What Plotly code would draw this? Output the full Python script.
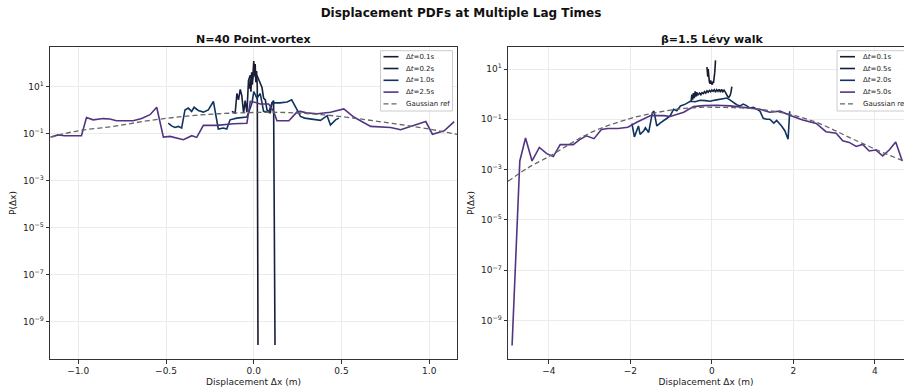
import plotly.graph_objects as go

# ---------------- data: N=40 point-vortex ----------------
PV_LABELS = ["Δ<i>t</i>=0.1s", "Δ<i>t</i>=0.2s", "Δ<i>t</i>=1.0s", "Δ<i>t</i>=2.5s"]

PV_DX_01 = [-0.025, -0.02, -0.016, -0.012, -0.008, -0.004, 0.0, 0.004, 0.008, 0.012, 0.016, 0.02, 0.024]
PV_P_01 = [8, 20, 6, 40, 12, 70, 120, 30, 90, 15, 45, 10, 1e-10]

PV_DX_02 = [-0.125, -0.115, -0.106, -0.096, -0.087, -0.077, -0.068, -0.058, -0.049, -0.039, -0.03,
            -0.02, -0.01, 0.0, 0.01, 0.018, 0.028, 0.037, 0.047, 0.056, 0.066, 0.075, 0.085, 0.094,
            0.104, 0.113, 0.121]
PV_P_02 = [0.87, 0.8, 0.74, 5.0, 2.7, 7.5, 4.0, 0.74, 2.5, 0.8, 18,
           30, 15, 40, 25, 30, 20, 12, 9, 3.2, 2.7, 1.0, 0.87, 0.74,
           2.0, 2.5, 1e-10]

PV_DX_10 = [-0.487, -0.468, -0.449, -0.43, -0.411, -0.392, -0.373, -0.354, -0.34, -0.316, -0.287,
            -0.259, -0.23, -0.202, -0.173, -0.154, -0.135, -0.097, -0.04, -0.03, -0.01, 0.0, 0.018,
            0.028, 0.037, 0.056, 0.085, 0.104, 0.123, 0.15, 0.19, 0.216, 0.247, 0.266, 0.29, 0.323,
            0.35, 0.38, 0.418, 0.437, 0.466, 0.485]
PV_P_10 = [0.277, 0.21, 0.18, 0.2, 0.17, 1.0, 1.2, 0.87, 1.3, 0.95, 0.81,
           1.0, 2.3, 0.155, 0.17, 0.155, 0.38, 0.45, 0.5, 0.74, 2.0, 6.0, 3.2,
           4.0, 5.0, 0.87, 0.8, 2.0, 2.0, 2.0, 2.2, 2.7, 1.0, 0.53, 0.45, 0.41,
           0.4, 0.36, 0.57, 0.23, 0.38, 0.45]

PV_DX_25 = [-1.153, -1.115, -1.077, -0.982, -0.953, -0.915, -0.858, -0.82, -0.782, -0.687, -0.639,
            -0.591, -0.553, -0.515, -0.477, -0.401, -0.353, -0.325, -0.287, -0.21, -0.115, -0.039,
            -0.02, 0.0, 0.037, 0.085, 0.113, 0.132, 0.2, 0.247, 0.266, 0.3, 0.361, 0.4, 0.437, 0.513,
            0.57, 0.666, 0.78, 0.837, 0.894, 0.98, 1.018, 1.085, 1.142]
PV_P_25 = [0.07, 0.087, 0.08, 0.08, 0.48, 0.38, 0.43, 0.41, 0.35, 0.35, 0.43,
           0.63, 1.3, 0.07, 0.075, 0.054, 0.08, 0.068, 0.22, 0.22, 0.26, 0.27,
           2.3, 2.2, 1.8, 1.8, 0.87, 0.35, 0.35, 0.83, 0.87, 0.75, 0.69, 0.75, 0.8, 1.1,
           0.5, 0.2, 0.18, 0.145, 0.2, 0.32, 0.093, 0.13, 0.32]

PV_GAUSS_DX = [-1.16, -1.0, -0.8, -0.6, -0.4, -0.2, 0.0, 0.1, 0.2, 0.4, 0.6, 0.8, 1.0, 1.16]
PV_GAUSS_P = [0.07, 0.13, 0.2, 0.35, 0.53, 0.69, 0.78, 0.8, 0.77, 0.62, 0.42, 0.26, 0.155, 0.09]

# ---------------- data: beta=1.5 Levy walk ----------------
LW_LABELS = ["Δ<i>t</i>=0.1s", "Δ<i>t</i>=0.5s", "Δ<i>t</i>=2.0s", "Δ<i>t</i>=5.0s"]

LW_DX_01 = [-0.12, -0.11, -0.1, -0.09, -0.08, -0.07, -0.06, -0.05, -0.04, -0.03, -0.02, -0.01, 0.0,
            0.01, 0.02, 0.03, 0.04, 0.05, 0.06, 0.07, 0.08, 0.09]
LW_P_01 = [12, 9, 5, 10, 4.4, 3.5, 3.0, 2.8, 2.6, 3.5, 2.8, 3.0, 2.5,
           2.4, 2.6, 3.2, 2.8, 3.5, 4.5, 7, 12, 22]

LW_DX_05 = [-0.51, -0.49, -0.47, -0.45, -0.43, -0.41, -0.39, -0.37, -0.35, -0.33, -0.3, -0.27, -0.24,
            -0.21, -0.18, -0.15, -0.12, -0.09, -0.06, -0.03, 0.0, 0.03, 0.06, 0.09, 0.12, 0.15, 0.18,
            0.21, 0.24, 0.27, 0.3, 0.33, 0.36, 0.39, 0.42, 0.45, 0.47, 0.49]
LW_P_05 = [0.5, 0.95, 0.6, 1.1, 0.7, 1.3, 0.8, 1.2, 0.9, 1.0, 1.1, 0.95, 1.15,
           1.05, 1.25, 1.1, 1.35, 1.2, 1.4, 1.25, 1.45, 1.3, 1.5, 1.2, 1.5, 1.3, 1.55,
           1.2, 1.55, 1.25, 1.45, 1.2, 0.9, 0.8, 0.75, 0.9, 1.2, 2.0]

LW_DX_20 = [-1.96, -1.9, -1.8, -1.76, -1.67, -1.63, -1.55, -1.46, -1.42, -1.35, -1.27, -1.19, -1.1,
            -1.02, -0.94, -0.86, -0.77, -0.65, -0.53, -0.41, -0.29, -0.16, -0.04, 0.08, 0.2, 0.29,
            0.37, 0.45, 0.53, 0.61, 0.69, 0.77, 0.85, 0.93, 1.02, 1.1, 1.18, 1.26, 1.34, 1.42, 1.46,
            1.52, 1.59, 1.65, 1.71, 1.79, 1.87, 1.91]
LW_P_20 = [0.068, 0.02, 0.054, 0.025, 0.035, 0.046, 0.03, 0.18, 0.21, 0.054, 0.07, 0.085, 0.11,
           0.14, 0.25, 0.22, 0.34, 0.4, 0.52, 0.5, 0.57, 0.55, 0.52, 0.58, 0.62, 0.66,
           0.7, 0.58, 0.45, 0.38, 0.34, 0.4, 0.35, 0.28, 0.3, 0.25, 0.21, 0.11, 0.1, 0.1, 0.085,
           0.07, 0.09, 0.07, 0.054, 0.035, 0.016, 0.21]

LW_DX_50 = [-4.9, -4.71, -4.57, -4.41, -4.23, -4.05, -3.89, -3.72, -3.4, -3.24, -3.08, -2.89, -2.71,
            -2.55, -2.3, -2.06, -1.83, -1.5, -1.18, -1.02, -0.69, -0.45, -0.2, 0.12, 0.45, 0.77,
            1.18, 1.42, 1.67, 1.99, 2.23, 2.56, 2.8, 3.05, 3.21, 3.37, 3.54, 3.7, 3.86, 4.02, 4.19,
            4.35, 4.51, 4.67]
LW_P_50 = [1e-10, 0.0022, 0.018, 0.0022, 0.0076, 0.0043, 0.0033, 0.0098, 0.0098, 0.0155, 0.022, 0.017, 0.039,
           0.043, 0.043, 0.048, 0.078, 0.14, 0.14, 0.13, 0.19, 0.32, 0.35, 0.36, 0.34, 0.29,
           0.25, 0.19, 0.21, 0.13, 0.094, 0.068, 0.032, 0.028, 0.014, 0.012, 0.0083, 0.01, 0.0055, 0.006, 0.0035,
           0.006, 0.0126, 0.0022]

LW_GAUSS_DX = [-5.0, -4.5, -3.94, -3.5, -3.13, -2.72, -2.32, -1.9, -1.5, -1.1, -0.69, -0.28, 0.12,
               0.53, 0.93, 1.34, 1.75, 2.15, 2.56, 2.96, 3.37, 3.78, 4.19, 4.69, 5.0]
LW_GAUSS_P = [3.4e-4, 1.2e-3, 3.7e-3, 0.010, 0.022, 0.044, 0.074, 0.12, 0.166, 0.22, 0.27, 0.30, 0.30,
              0.29, 0.27, 0.23, 0.18, 0.125, 0.076, 0.040, 0.019, 0.0095, 0.0048, 0.0022, 0.0012]

GAUSS_LABEL = "Gaussian ref"
TITLE = "Displacement PDFs at Multiple Lag Times"
SUB_TITLES = ["N=40 Point-vortex", "β=1.5 Lévy walk"]
X_TITLE = "Displacement Δx (m)"
Y_TITLE = "P(Δx)"
Y_TICKVALS = [1e-9, 1e-7, 1e-5, 1e-3, 1e-1, 1e1]
Y_TICKTEXT = ["10<sup>−9</sup>", "10<sup>−7</sup>", "10<sup>−5</sup>", "10<sup>−3</sup>",
              "10<sup>−1</sup>", "10<sup>1</sup>"]

COLORS = ["#1a1a2e", "#16213e", "#0f3460", "#533483"]
GAUSS_COLOR = "#666666"
FONT = "DejaVu Sans"

# ---------------- layout geometry (pixels) ----------------
W, H = 904, 389
ML, MR, MT, MB = 50, 0, 47, 30
PW, PH = W - ML - MR, H - MT - MB


def px(x):
    return (x - ML) / PW


def py(y):
    return (H - MB - y) / PH


fig = go.Figure()


def add_line(xs, ys, color, xa, ya, dash=None, width=1.6):
    fig.add_trace(go.Scatter(x=xs, y=ys, mode="lines", xaxis=xa, yaxis=ya, showlegend=False,
                             hoverinfo="skip",
                             line=dict(color=color, width=width, dash=dash)))


pv_series = [(PV_DX_01, PV_P_01), (PV_DX_02, PV_P_02), (PV_DX_10, PV_P_10), (PV_DX_25, PV_P_25)]
lw_series = [(LW_DX_01, LW_P_01), (LW_DX_05, LW_P_05), (LW_DX_20, LW_P_20), (LW_DX_50, LW_P_50)]

for (xs, ys), c in zip(pv_series, COLORS):
    add_line(xs, ys, c, "x", "y")
fig.add_trace(go.Scatter(x=PV_GAUSS_DX, y=PV_GAUSS_P, mode="lines", xaxis="x", yaxis="y",
                         showlegend=False, hoverinfo="skip",
                         line=dict(color=GAUSS_COLOR, width=1.3, dash="5px,3px", shape="spline")))
for (xs, ys), c in zip(lw_series, COLORS):
    add_line(xs, ys, c, "x2", "y2")
fig.add_trace(go.Scatter(x=LW_GAUSS_DX, y=LW_GAUSS_P, mode="lines", xaxis="x2", yaxis="y2",
                         showlegend=False, hoverinfo="skip",
                         line=dict(color=GAUSS_COLOR, width=1.3, dash="5px,3px", shape="spline")))

axis_common = dict(showline=True, linecolor="#333333", linewidth=1, ticks="outside", ticklen=3.5,
                   tickcolor="#333333", tickwidth=1, showgrid=True, gridcolor="#ebebeb", gridwidth=0.8,
                   zeroline=False, tickfont=dict(family=FONT, size=9, color="#222222"))

fig.update_layout(
    width=W, height=H,
    margin=dict(l=ML, r=MR, t=MT, b=MB, pad=0),
    paper_bgcolor="white", plot_bgcolor="white",
    font=dict(family=FONT, color="#222222"),
    title=dict(text="<b>" + TITLE + "</b>", x=461 / W, xanchor="center", xref="container",
               y=1 - 13 / H, yanchor="middle", yref="container",
               font=dict(family=FONT, size=12, color="#111111")),
    xaxis=dict(domain=[0, px(457)], range=[-1.161, 1.158], anchor="y", dtick=0.5, tick0=0,
               tickformat=".1f", mirror=True,
               title=dict(text=X_TITLE, font=dict(family=FONT, size=9), standoff=3),
               **axis_common),
    yaxis=dict(domain=[0, 1], type="log", range=[-10.6, 2.68], anchor="x", mirror=True,
               tickvals=Y_TICKVALS, ticktext=Y_TICKTEXT,
               title=dict(text=Y_TITLE, font=dict(family=FONT, size=9), standoff=4),
               **axis_common),
    xaxis2=dict(domain=[px(508), 1], range=[-5, 4.713], anchor="y2", dtick=2, tick0=0, mirror=True,
                title=dict(text=X_TITLE, font=dict(family=FONT, size=9), standoff=3),
                **axis_common),
    yaxis2=dict(domain=[0, 1], type="log", range=[-10.535, 1.875], anchor="x2", mirror=False,
                tickvals=Y_TICKVALS, ticktext=Y_TICKTEXT,
                title=dict(text=Y_TITLE, font=dict(family=FONT, size=9), standoff=4),
                **axis_common),
)

annotations = []
shapes = []
# subplot titles
for text, cx in zip(SUB_TITLES, [253.5, 711.5]):
    annotations.append(dict(text="<b>" + text + "</b>", x=px(cx), y=py(39), xref="paper", yref="paper",
                            xanchor="center", yanchor="middle", showarrow=False,
                            font=dict(family=FONT, size=11, color="#111111")))


# custom legends (matplotlib style)
def legend(box_left, box_right, labels):
    top, bottom = 50.7, 111
    shapes.append(dict(type="rect", xref="paper", yref="paper", x0=px(box_left), x1=px(box_right),
                       y0=py(bottom), y1=py(top), line=dict(color="#cccccc", width=1),
                       fillcolor="rgba(255,255,255,0.85)", layer="above"))
    rows = [56.7, 68.5, 80.3, 92.1, 103.9]
    entries = list(zip(labels, COLORS)) + [(GAUSS_LABEL, GAUSS_COLOR)]
    for (lab, col), ry in zip(entries, rows):
        dash = "5px,3px" if lab == GAUSS_LABEL else None
        width = 1.3 if lab == GAUSS_LABEL else 1.6
        shapes.append(dict(type="line", xref="paper", yref="paper", x0=px(box_left + 3), x1=px(box_left + 18),
                           y0=py(ry), y1=py(ry), line=dict(color=col, width=width, dash=dash), layer="above"))
        annotations.append(dict(text=lab, x=px(box_left + 23.5), y=py(ry), xref="paper", yref="paper",
                                xanchor="left", yanchor="middle", showarrow=False,
                                font=dict(family=FONT, size=7, color="#222222")))


legend(380.5, 452.5, PV_LABELS)
legend(837, 930, LW_LABELS)

fig.update_layout(annotations=annotations, shapes=shapes)
fig.write_html("out.html")
